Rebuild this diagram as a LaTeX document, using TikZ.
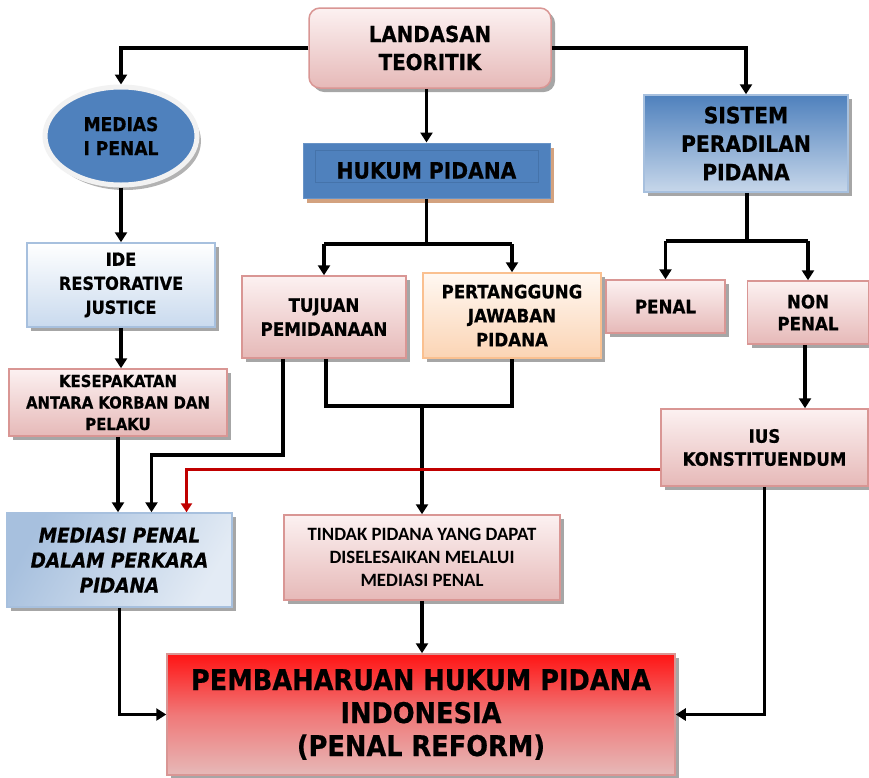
\documentclass[tikz,border=0pt]{standalone}
\usepackage{fontspec}
\usetikzlibrary{arrows.meta,shadows,shapes.geometric,calc}
\newfontfamily\djc{DejaVu Sans Condensed}[BoldFeatures={FakeBold=0.6}]
\newfontfamily\djcbi{DejaVu Sans Condensed Bold Oblique}[FakeBold=0.6]
\newfontfamily\carl{Carlito}
\definecolor{pinkEdge}{HTML}{D99694}
\definecolor{pinkTop}{HTML}{FCF1F1}
\definecolor{pinkBot}{HTML}{E6B9B8}
\definecolor{orEdge}{HTML}{FAC090}
\definecolor{orTop}{HTML}{FFF8F2}
\definecolor{orBot}{HTML}{FBD4B4}
\definecolor{blueM}{HTML}{4F81BD}
\definecolor{blueD}{HTML}{4573AA}
\definecolor{blueL}{HTML}{B9CDE5}
\definecolor{blueEdge}{HTML}{A7C0DE}
\definecolor{blueTint}{HTML}{C9DAEE}
\definecolor{tan}{HTML}{D3A27F}
\definecolor{redTop}{HTML}{FF1414}
\definecolor{redMid}{HTML}{F07878}
\definecolor{darkRed}{HTML}{C00000}
\tikzset{
  shade box/.style={drop shadow={shadow xshift=4pt, shadow yshift=-4pt, fill=black, opacity=0.35}},
  base/.style={rectangle, inner sep=0pt, align=center, line width=1.5pt, shade box},
  pinkbox/.style={base, draw=pinkEdge, top color=pinkTop, bottom color=pinkBot},
  orbox/.style={base, draw=orEdge, top color=orTop, bottom color=orBot},
  paleblue/.style={base, draw=blueEdge, top color=white, bottom color=blueTint},
  wire/.style={line width=3.6pt},
  conn/.style={wire, -{Triangle[width=12pt,length=10pt]}},
  redconn/.style={line width=3pt, darkRed, -{Triangle[width=11pt,length=9pt]}},
  big/.style={font=\djc\bfseries\fontsize{22.5}{28.5}\selectfont},
  mid/.style={font=\djc\bfseries\fontsize{18.5}{24}\selectfont},
}
\begin{document}
\begin{tikzpicture}[x=1pt,y=-1pt]
\fill[white] (0,0) rectangle (869,777);
\useasboundingbox (0,0) rectangle (869,777);

% top level
\node[pinkbox, rounded corners=11pt, minimum width=242pt, minimum height=80pt,
      font=\djc\bfseries\fontsize{22}{28}\selectfont] (top) at (430,48) {LANDASAN\\TEORITIK};

\node[ellipse, draw=gray!10, line width=5pt, fill=blueM, inner sep=0pt, align=center,
      minimum width=152pt, minimum height=98pt,
      drop shadow={shadow xshift=4pt, shadow yshift=-5pt, fill=black, opacity=0.3},
      font=\djc\bfseries\fontsize{19}{24}\selectfont] (ell) at (121,136) {MEDIAS\\I PENAL};

\node[rectangle, inner sep=0pt, fill=blueM, draw=blueM!85!white, line width=1pt,
      minimum width=247pt, minimum height=55pt,
      drop shadow={shadow xshift=4pt, shadow yshift=-5pt, fill=tan, opacity=1},
      big] (huk) at (426.5,170.5) {HUKUM PIDANA};
\draw[blueD, line width=0.7pt] ([shift={(13pt,-8pt)}]huk.north west) rectangle ([shift={(-12pt,16pt)}]huk.south east);

\node[base, draw=blueEdge, top color=blueM, bottom color=blueL!80!white,
      minimum width=204pt, minimum height=97pt, big] (sis) at (746,143.5) {SISTEM\\PERADILAN\\PIDANA};

% second level
\node[paleblue, minimum width=188pt, minimum height=84pt,
      font=\djc\bfseries\fontsize{18}{24}\selectfont] (ide) at (121,285) {IDE\\RESTORATIVE\\JUSTICE};
\node[pinkbox, minimum width=218pt, minimum height=67pt,
      font=\djc\bfseries\fontsize{16.5}{21.5}\selectfont] (kes) at (118,402.5) {KESEPAKATAN\\ANTARA KORBAN DAN\\PELAKU};
\node[pinkbox, minimum width=164pt, minimum height=82pt, mid] (tuj) at (324,317) {TUJUAN\\PEMIDANAAN};
\node[orbox, minimum width=178pt, minimum height=85pt, mid] (per) at (512,315.5) {PERTANGGUNG\\JAWABAN\\PIDANA};
\node[pinkbox, minimum width=119pt, minimum height=53pt, mid] (pen) at (665.5,306.5) {PENAL};
\node[pinkbox, minimum width=121pt, minimum height=63pt,
      font=\djc\bfseries\fontsize{18.5}{22}\selectfont] (non) at (808,312.5) {NON\\PENAL};
\node[pinkbox, minimum width=207pt, minimum height=77pt,
      font=\djc\bfseries\fontsize{18.5}{23}\selectfont] (ius) at (764.5,447.5) {IUS\\KONSTITUENDUM};

% third level
\node[base, draw=blueEdge, left color=blueEdge, right color=blueL!40!white, shading angle=60,
      minimum width=225pt, minimum height=94pt,
      font=\djcbi\fontsize{20.5}{25}\selectfont] (med) at (119.5,560) {MEDIASI PENAL\\DALAM PERKARA\\PIDANA};
\node[pinkbox, minimum width=276pt, minimum height=85pt,
      font=\carl\bfseries\fontsize{18.8}{23}\selectfont] (tin) at (422,557.5) {TINDAK PIDANA YANG DAPAT\\DISELESAIKAN MELALUI\\MEDIASI PENAL};
\node[base, draw=pinkEdge, top color=redTop, bottom color=pinkBot, middle color=redMid,
      minimum width=508pt, minimum height=121pt,
      font=\djc\bfseries\fontsize{28.5}{33}\selectfont] (pemb) at (421,714.5) {PEMBAHARUAN HUKUM PIDANA\\INDONESIA\\(PENAL REFORM)};

% connectors
\draw[conn] (top.west) -| (ell.north);
\draw[conn] (top.east) -| (sis.north);
\draw[conn] (huk.north |- top.south) -- (huk.north);

\coordinate (hj) at (426.5,244);
\draw[wire] (huk.south) -- (hj);
\draw[wire] (hj -| tuj.north) -- (hj -| per.north);
\draw[conn] (hj -| tuj.north) -- (tuj.north);
\draw[conn] (hj -| per.north) -- (per.north);

\coordinate (sj) at (747,241);
\draw[wire] (sj |- sis.south) -- (sj);
\draw[wire] (sj -| pen.north) -- (sj -| non.north);
\draw[conn] (sj -| pen.north) -- (pen.north);
\draw[conn] (sj -| non.north) -- (non.north);

\draw[conn] (ell.south) -- (ell.south |- ide.north);
\draw[conn] (ide.south) -- (ide.south |- kes.north);
\draw[conn] (kes.south) -- (kes.south |- med.north);

\coordinate (kA) at (283,455);
\draw[conn] (kA |- tuj.south) -- (kA) -| ([xshift=32pt]med.north);
\coordinate (kB) at (326,406);
\draw[wire] (kB |- tuj.south) -- (kB) -- (kB -| per.south) -- (per.south);
\draw[conn] (tin.north |- kB) -- (tin.north);

\draw[conn] ([xshift=-3pt]non.south) -- ([xshift=-3pt]non.south |- ius.north);
\draw[redconn] ([yshift=-22pt]ius.west) -| ([xshift=67pt]med.north);

\draw[conn] (ius.south) |- (pemb.east);
\draw[conn] (med.south) |- (pemb.west);
\draw[conn] (tin.south) -- (tin.south |- pemb.north);
\end{tikzpicture}
\end{document}
